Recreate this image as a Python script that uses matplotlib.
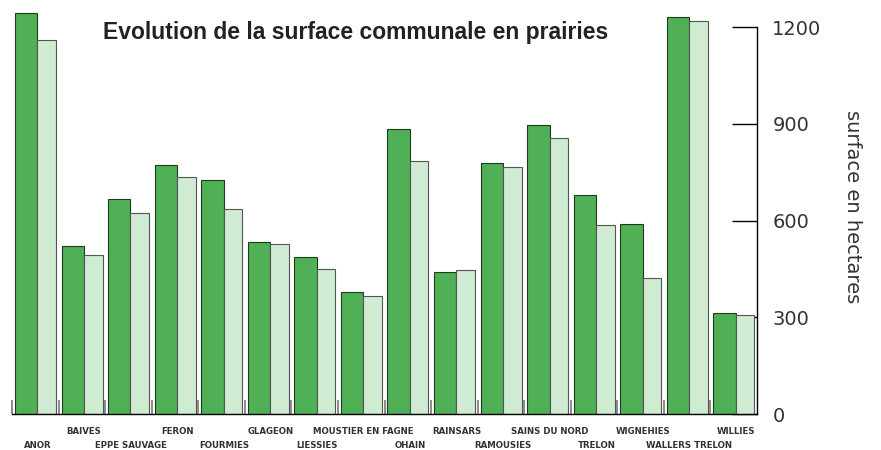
import numpy as np
import matplotlib
matplotlib.use('Agg')
import matplotlib.pyplot as plt
from matplotlib.transforms import blended_transform_factory

communes = ['ANOR', 'BAIVES', 'EPPE SAUVAGE', 'FERON', 'FOURMIES', 'GLAGEON',
            'LIESSIES', 'MOUSTIER EN FAGNE', 'OHAIN', 'RAINSARS', 'RAMOUSIES',
            'SAINS DU NORD', 'TRELON', 'WIGNEHIES', 'WALLERS TRELON', 'WILLIES']
serie_fonce = [1245, 522, 667, 772, 727, 534, 487, 378, 885, 441, 779, 898,
               680, 590, 1233, 314]
serie_clair = [1160, 493, 623, 735, 637, 528, 450, 367, 784, 447, 766, 858,
               588, 421, 1219, 306]
yticks = [0, 300, 600, 900, 1200]

fig = plt.figure(figsize=(8.81, 4.5), dpi=100)
ax = fig.add_axes([12 / 881, 0.08, (757 - 12) / 881, 0.92])

x = np.arange(len(communes))
ax.bar(x + 0.064, serie_fonce, width=0.48, align='edge', color='#4fb055',
       edgecolor='#1e3a20', linewidth=0.8, zorder=2)
ax.bar(x + 0.544, serie_clair, width=0.40, align='edge', color='#cfebd1',
       edgecolor='#555555', linewidth=0.8, zorder=2)

ax.set_xlim(0, len(communes))
ax.set_ylim(0, 1200 * 414 / 386.7)

for s in ['top', 'left']:
    ax.spines[s].set_visible(False)
ax.spines['bottom'].set_linewidth(1.0)
ax.spines['right'].set_linewidth(1.0)
ax.spines['right'].set_bounds(0, 1200)

ax.set_xticks(x)
ax.set_xticklabels([])
ax.tick_params(axis='x', direction='in', length=10, width=1.2, color='#777777')

ax.yaxis.tick_right()
ax.yaxis.set_label_position('right')
ax.set_yticks(yticks)
ax.set_yticklabels([str(v) for v in yticks], fontsize=14, color='#333333')
ax.tick_params(axis='y', direction='in', length=18, width=1.0, pad=11)
ax.set_ylabel('surface en hectares', rotation=270, fontsize=14,
              color='#333333', labelpad=29)

trans = blended_transform_factory(ax.transData, fig.transFigure)
for i, nom in enumerate(communes):
    yy = 1 - 432 / 450 if i % 2 == 1 else 1 - 445 / 450
    fig.text(i + 0.55, yy, nom, transform=trans, ha='center', va='center',
             fontsize=6.2, fontweight='bold', color='#333333',
             family=['Liberation Sans Narrow', 'DejaVu Sans'])

fig.text(103 / 881, 1 - 32 / 450, 'Evolution de la surface communale en prairies',
         ha='left', va='center', fontsize=16.5, fontweight='bold', color='#222222',
         family=['Liberation Sans', 'DejaVu Sans'])

fig.savefig('out.png', dpi=100)
